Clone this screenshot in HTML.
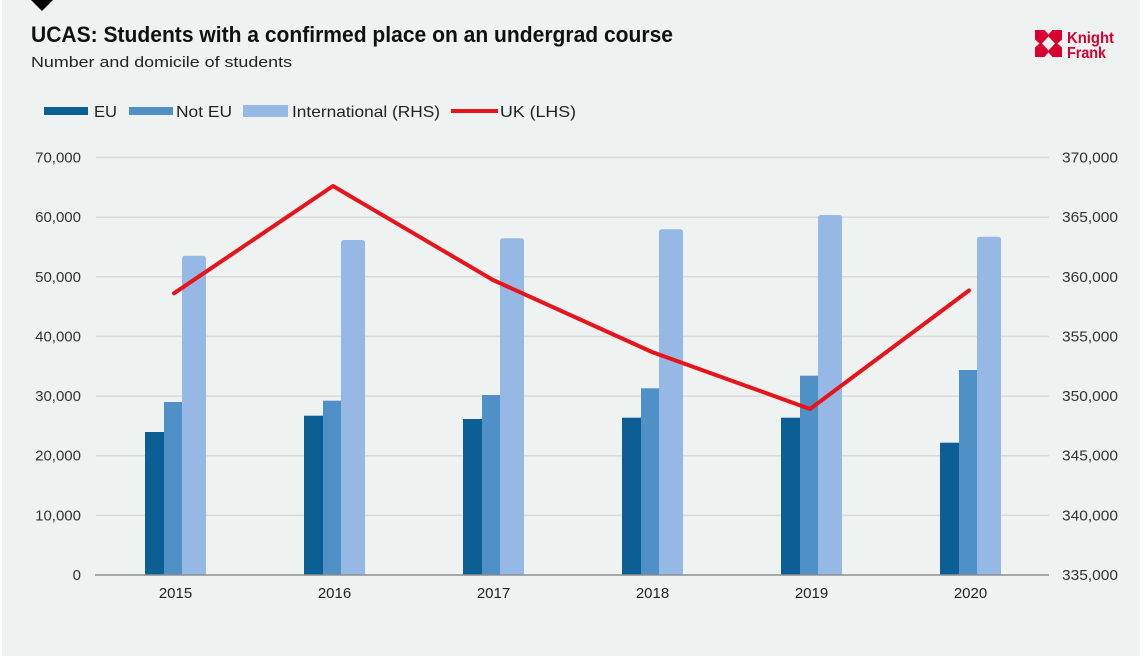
<!DOCTYPE html>
<html>
<head>
<meta charset="utf-8">
<style>
  html,body{margin:0;padding:0;background:#ffffff;}
  svg{display:block;}
  text{font-family:"Liberation Sans", Arial, sans-serif;}
</style>
</head>
<body>
<svg width="1145" height="661" viewBox="0 0 1145 661" xmlns="http://www.w3.org/2000/svg">
  <!-- panel background -->
  <rect x="2" y="0" width="1138" height="656" fill="#eef2f1"/>
  <rect x="1137" y="0" width="3" height="656" fill="#f3f6f5"/>

  <!-- top marker -->
  <polygon points="31,0 53,0 42,11" fill="#000"/>

  <!-- title -->
  <text x="31" y="42" font-size="22" font-weight="bold" fill="#111" textLength="642" lengthAdjust="spacingAndGlyphs">UCAS:  Students with a confirmed place on an undergrad course</text>
  <text x="31" y="67" font-size="15" fill="#222" textLength="261" lengthAdjust="spacingAndGlyphs">Number and domicile of students</text>

  <!-- logo -->
  <g>
    <rect x="1035" y="30" width="27" height="27" fill="#d7002e"/>
    <polygon points="1048.5,36.5 1055,43.5 1048.5,50.5 1042,43.5" fill="#eef2f1"/>
    <polygon points="1044.5,30 1052.5,30 1048.5,34.5" fill="#eef2f1"/>
    <polygon points="1044.5,57 1052.5,57 1048.5,52.5" fill="#eef2f1"/>
    <polygon points="1035,39.5 1035,47.5 1039.5,43.5" fill="#eef2f1"/>
    <polygon points="1062,39.5 1062,47.5 1057.5,43.5" fill="#eef2f1"/>
    <text x="1067" y="43" font-size="16" font-weight="bold" fill="#d7002e" textLength="47" lengthAdjust="spacingAndGlyphs">Knight</text>
    <text x="1067" y="58" font-size="16" font-weight="bold" fill="#d7002e" textLength="39" lengthAdjust="spacingAndGlyphs">Frank</text>
  </g>

  <!-- legend -->
  <rect x="44" y="107" width="44" height="8" fill="#0b5f94"/>
  <text x="94" y="117" font-size="16" fill="#222" textLength="23" lengthAdjust="spacingAndGlyphs">EU</text>
  <rect x="129" y="107" width="44" height="8" fill="#4f90c6"/>
  <text x="176" y="117" font-size="16" fill="#222" textLength="56" lengthAdjust="spacingAndGlyphs">Not EU</text>
  <rect x="243" y="105" width="45" height="12" fill="#96b8e4"/>
  <text x="292" y="117" font-size="16" fill="#222" textLength="148" lengthAdjust="spacingAndGlyphs">International (RHS)</text>
  <line x1="451" y1="111" x2="498" y2="111" stroke="#e8141b" stroke-width="4"/>
  <text x="500" y="117" font-size="16" fill="#222" textLength="76" lengthAdjust="spacingAndGlyphs">UK (LHS)</text>

  <!-- gridlines -->
  <g stroke="#d9dcdb" stroke-width="1.5">
    <line x1="96" y1="157.5" x2="1049" y2="157.5"/>
    <line x1="96" y1="217.2" x2="1049" y2="217.2"/>
    <line x1="96" y1="276.8" x2="1049" y2="276.8"/>
    <line x1="96" y1="336.4" x2="1049" y2="336.4"/>
    <line x1="96" y1="396.1" x2="1049" y2="396.1"/>
    <line x1="96" y1="455.7" x2="1049" y2="455.7"/>
    <line x1="96" y1="515.4" x2="1049" y2="515.4"/>
  </g>

  <!-- left axis labels -->
  <g font-size="15" fill="#333" text-anchor="end">
    <text x="81" y="162.5">70,000</text>
    <text x="81" y="222.2">60,000</text>
    <text x="81" y="281.8">50,000</text>
    <text x="81" y="341.4">40,000</text>
    <text x="81" y="401.1">30,000</text>
    <text x="81" y="460.7">20,000</text>
    <text x="81" y="520.4">10,000</text>
    <text x="81" y="580">0</text>
  </g>

  <!-- right axis labels -->
  <g font-size="15" fill="#333">
    <text x="1062" y="162.5" textLength="56" lengthAdjust="spacingAndGlyphs">370,000</text>
    <text x="1062" y="222.2" textLength="56" lengthAdjust="spacingAndGlyphs">365,000</text>
    <text x="1062" y="281.8" textLength="56" lengthAdjust="spacingAndGlyphs">360,000</text>
    <text x="1062" y="341.4" textLength="56" lengthAdjust="spacingAndGlyphs">355,000</text>
    <text x="1062" y="401.1" textLength="56" lengthAdjust="spacingAndGlyphs">350,000</text>
    <text x="1062" y="460.7" textLength="56" lengthAdjust="spacingAndGlyphs">345,000</text>
    <text x="1062" y="520.4" textLength="56" lengthAdjust="spacingAndGlyphs">340,000</text>
    <text x="1062" y="580" textLength="56" lengthAdjust="spacingAndGlyphs">335,000</text>
  </g>

  <!-- bars -->
  <rect x="145" y="432" width="19" height="143" fill="#0b5f94"/>
  <rect x="164" y="402" width="18" height="173" fill="#4f90c6"/>
  <path d="M182,575 V258.7 Q182,255.7 185,255.7 H203 Q206,255.7 206,258.7 V575 Z" fill="#96b8e4"/>

  <rect x="304" y="415.7" width="19" height="159.3" fill="#0b5f94"/>
  <rect x="323" y="400.7" width="18" height="174.3" fill="#4f90c6"/>
  <path d="M341,575 V243 Q341,240 344,240 H362 Q365,240 365,243 V575 Z" fill="#96b8e4"/>

  <rect x="463" y="419" width="19" height="156" fill="#0b5f94"/>
  <rect x="482" y="395" width="18" height="180" fill="#4f90c6"/>
  <path d="M500,575 V241.3 Q500,238.3 503,238.3 H521 Q524,238.3 524,241.3 V575 Z" fill="#96b8e4"/>

  <rect x="622" y="417.7" width="19" height="157.3" fill="#0b5f94"/>
  <rect x="641" y="388.3" width="18" height="186.7" fill="#4f90c6"/>
  <path d="M659,575 V232.3 Q659,229.3 662,229.3 H680 Q683,229.3 683,232.3 V575 Z" fill="#96b8e4"/>

  <rect x="781" y="417.7" width="19" height="157.3" fill="#0b5f94"/>
  <rect x="800" y="375.7" width="18" height="199.3" fill="#4f90c6"/>
  <path d="M818,575 V218 Q818,215 821,215 H839 Q842,215 842,218 V575 Z" fill="#96b8e4"/>

  <rect x="940" y="442.7" width="19" height="132.3" fill="#0b5f94"/>
  <rect x="959" y="370" width="18" height="205" fill="#4f90c6"/>
  <path d="M977,575 V239.7 Q977,236.7 980,236.7 H998 Q1001,236.7 1001,239.7 V575 Z" fill="#96b8e4"/>

  <!-- x axis -->
  <line x1="95" y1="575" x2="1049" y2="575" stroke="#8c8f8e" stroke-width="1.5"/>

  <!-- year labels -->
  <g font-size="15" fill="#222" text-anchor="middle">
    <text x="175.5" y="598">2015</text>
    <text x="334.5" y="598">2016</text>
    <text x="493.5" y="598">2017</text>
    <text x="652.5" y="598">2018</text>
    <text x="811.5" y="598">2019</text>
    <text x="970.5" y="598">2020</text>
  </g>

  <!-- UK line -->
  <polyline points="174,293.3 333,186 493,280 652,352 810,409 969,290.5" fill="none" stroke="#e8141b" stroke-width="4" stroke-linejoin="round" stroke-linecap="round"/>
</svg>
</body>
</html>
